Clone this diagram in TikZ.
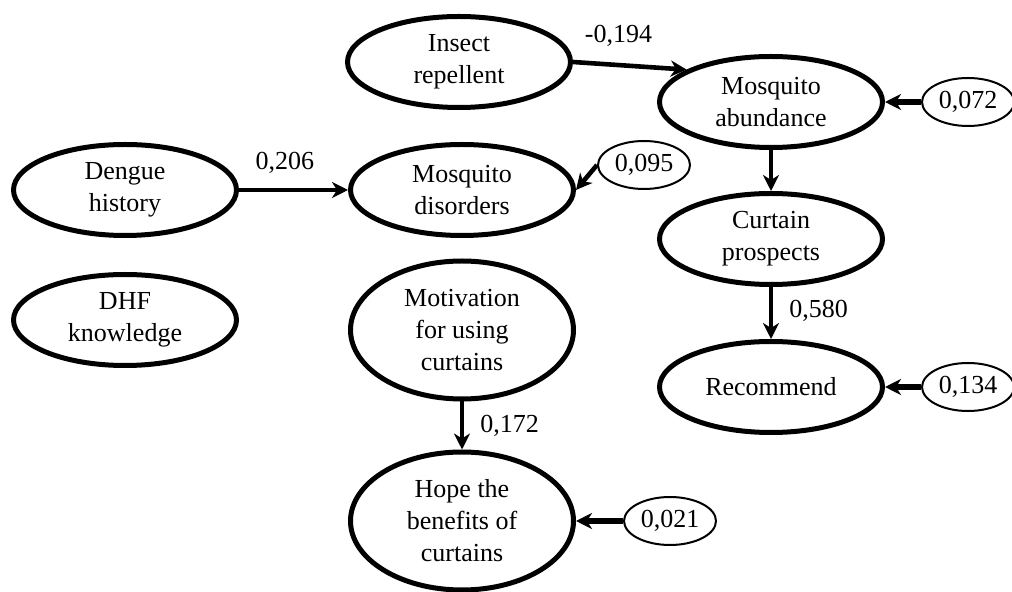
\documentclass[tikz,border=0pt]{standalone}
\usepackage{fontspec}
\setmainfont{Liberation Serif}
\usetikzlibrary{shapes.geometric,arrows.meta}

\begin{document}
\begin{tikzpicture}[x=0.5pt,y=-0.5pt,
  var/.style={ellipse,draw,line width=2.5pt,inner sep=0pt,minimum width=111.5pt,
    minimum height=45.5pt,align=center,font=\fontsize{13}{16}\selectfont},
  tallvar/.style={var,minimum height=69pt},
  err/.style={ellipse,draw,line width=1pt,inner sep=0pt,minimum width=46pt,
    minimum height=24pt,font=\fontsize{13}{16}\selectfont},
  link/.style={line width=2.3pt,-{Stealth[length=8pt,width=8pt,inset=2.5pt]}},
  errlink/.style={link,line width=3pt},
  coef/.style={inner sep=1pt,font=\fontsize{13}{16}\selectfont}]
  \useasboundingbox (0,0) rectangle (1012,592);
  \node[var] (insect) at (459,62) {Insect\\repellent};
  \node[var] (abund) at (771,102) {Mosquito\\abundance};
  \node[err] (e1) at (968,102) {0,072};
  \node[var] (dengue) at (125,190) {Dengue\\history};
  \node[var] (disord) at (462,190) {Mosquito\\disorders};
  \node[err] (e2) at (644,165) {0,095};
  \node[var] (curtain) at (771,239) {Curtain\\prospects};
  \node[var] (dhf) at (125,320) {DHF\\knowledge};
  \node[tallvar] (motiv) at (462,330) {Motivation\\for using\\curtains};
  \node[var] (recomm) at (771,387) {Recommend};
  \node[err] (e3) at (968,387) {0,134};
  \node[tallvar] (hope) at (462,521) {Hope the\\benefits of\\curtains};
  \node[err] (e4) at (670,521) {0,021};
  % paths
  \draw[link] (insect.east) -- (abund.159) node[coef,pos=.4,above=7pt]{-0,194};
  \draw[link] (dengue.east) -- (disord.west) node[coef,pos=.42,above=6pt]{0,206};
  \draw[link] (e2.west) -- (disord.east);
  \draw[link] (abund.south) -- (curtain.north);
  \draw[link] (curtain.south) -- (recomm.north) node[coef,pos=.45,right=7pt]{0,580};
  \draw[link] (motiv.south) -- (hope.north) node[coef,midway,right=7pt]{0,172};
  % residuals
  \draw[errlink] (e1.west) -- (abund.east);
  \draw[errlink] (e3.west) -- (recomm.east);
  \draw[errlink] (e4.west) -- (hope.east);
\end{tikzpicture}
\end{document}
